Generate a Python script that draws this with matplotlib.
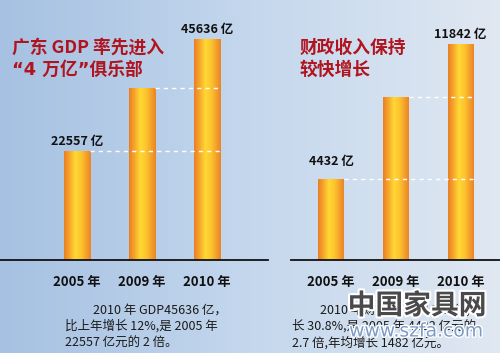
import numpy as np
import matplotlib
matplotlib.use('Agg')
import matplotlib.pyplot as plt
from matplotlib.colors import LinearSegmentedColormap
import matplotlib.patheffects as pe

plt.rcParams['font.family'] = ['Noto Sans CJK SC', 'DejaVu Sans']

# ---- data ----
years = ['2005 年', '2009 年', '2010 年']
gdp = [22557, 35500, 45636]
gdp_labels = ['22557 亿', None, '45636 亿']
revenue = [4432, 8940, 11842]
rev_labels = ['4432 亿', None, '11842 亿']

left_title = ['广东 GDP 率先进入', '“4 万亿”俱乐部']
right_title = ['财政收入保持', '较快增长']
left_body = ['2010 年 GDP45636 亿，', '比上年增长 12%,是 2005 年', '22557 亿元的 2 倍。']
right_body = ['2010 年财政收入 11842 亿,增', '长 30.8%,是 2005 年 4432 亿元的', '2.7 倍,年均增长 1482 亿元。']

W, H = 500, 353
fig = plt.figure(figsize=(5, 3.53), dpi=100)


def px_rect(x0, y0, x1, y1):
    return [x0 / W, 1 - y1 / H, (x1 - x0) / W, (y1 - y0) / H]


def fx(x):
    return x / W


def fy(y):
    return 1 - y / H


# background gradient
bg = fig.add_axes([0, 0, 1, 1])
bg.set_axis_off()
bgcmap = LinearSegmentedColormap.from_list('bg', ['#a6c1e2', '#c4d7ed', '#e0e8f2'])
gx = np.linspace(0, 1, 256)[None, :]
bg.imshow(np.repeat(gx, 2, axis=0), cmap=bgcmap, aspect='auto', extent=[0, 1, 0, 1])
bg.set_xlim(0, 1)
bg.set_ylim(0, 1)

barcmap = LinearSegmentedColormap.from_list(
    'bar', [(0, '#ea7f26'), (0.2, '#f7a52b'), (0.42, '#ffd834'), (0.65, '#fcc32e'), (1, '#ec8427')])
bgrad = np.linspace(0, 1, 64)[None, :]


def panel(rect, xlim, ylim, vals, labels, offsets):
    ax = fig.add_axes(rect)
    ax.patch.set_alpha(0)
    for s in ['top', 'left', 'right']:
        ax.spines[s].set_visible(False)
    ax.spines['bottom'].set_linewidth(1.3)
    ax.spines['bottom'].set_color('#111111')
    x = np.arange(len(vals))
    bars = ax.bar(x, vals, width=0.4, color='#f5a623', zorder=2)
    for b in bars:
        im = ax.imshow(bgrad, cmap=barcmap, aspect='auto', zorder=2.5,
                       extent=[b.get_x(), b.get_x() + b.get_width(), 0, b.get_height()])
        im.set_clip_path(b)
    last = bars[-1]
    for b in bars[:-1]:
        ax.hlines(b.get_height(), b.get_x() + b.get_width(), last.get_x() + last.get_width(),
                  colors='white', linestyles=(0, (3, 3)), lw=1, zorder=3)
    for b, lab, off in zip(bars, labels, offsets):
        if lab:
            ax.annotate(lab, (b.get_x() + b.get_width() / 2, b.get_height()),
                        xytext=(0, off), textcoords='offset points', ha='center', va='bottom',
                        fontsize=9, weight='bold', color='#111111')
    ax.set_xticks(x)
    ax.set_xticklabels(years, fontsize=9.5, weight='bold', color='#111111')
    ax.tick_params(axis='x', length=0, pad=11)
    ax.set_yticks([])
    ax.set_xlim(*xlim)
    ax.set_ylim(*ylim)
    return ax


panel(px_rect(0, 0, 268, 260), (-1.185, 2.938), (0, 53716), gdp, gdp_labels, [2, None, 2])
panel(px_rect(291, 0, 500, 260), (-0.618, 2.61), (0, 14258), revenue, rev_labels, [8, None, 2])

# titles
red = '#b0141e'
for i, line in enumerate(left_title):
    fig.text(fx(12), fy(48 + 22 * i), line, va='center', ha='left', fontsize=12.8,
             weight='bold', color=red, family=['DejaVu Sans', 'Noto Sans CJK SC'] if i else None)
for i, line in enumerate(right_title):
    fig.text(fx(300), fy(48 + 22 * i), line, va='center', ha='left', fontsize=12.8,
             weight='bold', color=red)

# body text
body_y = [310, 326, 343]
for line, xx, yy in zip(left_body, [93, 65, 65], body_y):
    fig.text(fx(xx), fy(yy), line, va='center', ha='left', fontsize=9, color='#1a1a1a')
for line, xx, yy in zip(right_body, [320, 292, 292], body_y):
    fig.text(fx(xx), fy(yy), line, va='center', ha='left', fontsize=9, color='#1a1a1a')

# watermark
fig.text(fx(417), fy(306), '中国家具网', ha='center', va='center', fontsize=20, weight='bold',
         color='#4a4a4a', path_effects=[pe.withStroke(linewidth=3, foreground='white')])
fig.text(fx(416), fy(331), 'www.szfa.com', ha='center', va='center', fontsize=13.5,
         family='DejaVu Sans', color='#7d9bc4',
         path_effects=[pe.withStroke(linewidth=2, foreground='white')])

fig.savefig('out.png', dpi=100)
